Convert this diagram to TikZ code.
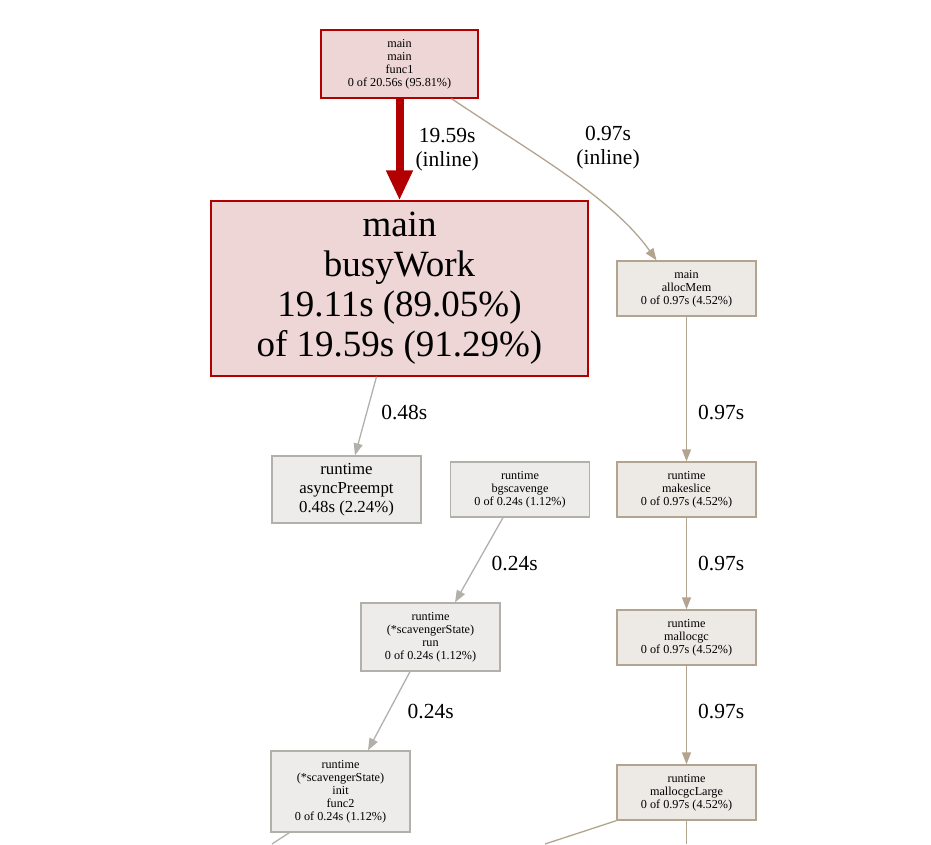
\documentclass[tikz,border=0pt]{standalone}
\usepackage{fontspec}
\setmainfont{Liberation Serif}
\usetikzlibrary{arrows.meta}

\definecolor{hotred}{HTML}{B20000}
\definecolor{hotfill}{HTML}{EDD6D5}
\definecolor{tanline}{HTML}{B2A48F}
\definecolor{tanfill}{HTML}{EDEAE6}
\definecolor{grayline}{HTML}{B2B0AB}
\definecolor{grayfill}{HTML}{EDECEB}

\tikzset{
  fnbox/.style={draw, line width=1.3pt, align=center, inner sep=0pt,
                font=\fontsize{12.2}{13}\selectfont},
  hotbox/.style={fnbox, draw=hotred, fill=hotfill},
  tanbox/.style={fnbox, draw=tanline, fill=tanfill, minimum width=139pt},
  graybox/.style={fnbox, draw=grayline, fill=grayfill, minimum width=139pt},
  elabel/.style={align=center, inner sep=0pt, font=\fontsize{21.5}{24}\selectfont},
  tanedge/.style={draw=tanline, line width=1.3pt, -{Triangle[length=12pt,width=9pt]}},
  grayedge/.style={draw=grayline, line width=1.3pt, -{Triangle[length=12pt,width=9pt]}},
}

\begin{document}
\begin{tikzpicture}[x=1pt, y=-1pt]
\useasboundingbox (0,0) rectangle (931,844);

% functions
\node[hotbox, minimum width=157pt, minimum height=68pt] (func1) at (399.5,64)
  {main\\main\\func1\\0 of 20.56s (95.81\%)};
\node[hotbox, minimum width=377pt, minimum height=175pt,
      font=\fontsize{37}{40}\selectfont] (busyWork) at (399.5,288.5)
  {main\\busyWork\\19.11s (89.05\%)\\of 19.59s (91.29\%)};
\node[tanbox, minimum height=55pt] (allocMem) at (686.5,288.5)
  {main\\allocMem\\0 of 0.97s (4.52\%)};
\node[graybox, minimum width=149pt, minimum height=67pt,
      font=\fontsize{16.8}{19}\selectfont] (asyncPreempt) at (346.5,489.5)
  {runtime\\asyncPreempt\\0.48s (2.24\%)};
\node[graybox, minimum height=55pt] (bgscavenge) at (520,489.5)
  {runtime\\bgscavenge\\0 of 0.24s (1.12\%)};
\node[tanbox, minimum height=55pt] (makeslice) at (686.5,489.5)
  {runtime\\makeslice\\0 of 0.97s (4.52\%)};
\node[graybox, minimum height=68pt] (scavRun) at (430.5,637)
  {runtime\\(*scavengerState)\\run\\0 of 0.24s (1.12\%)};
\node[tanbox, minimum height=55pt] (mallocgc) at (686.5,637.5)
  {runtime\\mallocgc\\0 of 0.97s (4.52\%)};
\node[graybox, minimum height=81pt] (scavInit) at (340.5,791.5)
  {runtime\\(*scavengerState)\\init\\func2\\0 of 0.24s (1.12\%)};
\node[tanbox, minimum height=55pt] (mallocgcLarge) at (686.5,792.5)
  {runtime\\mallocgcLarge\\0 of 0.97s (4.52\%)};

% free ends below the page
\coordinate (outA) at (272,844);
\coordinate (outB) at (545,844);
\coordinate (outC) at (686.5,844);

% calls
\draw[draw=hotred, line width=8pt, -{Triangle[length=30pt,width=25pt]}]
  (func1) -- (busyWork)
  node[elabel, midway, right=12pt] (lInline) {19.59s\\(inline)};
\draw[tanedge] ([xshift=52pt]func1.south)
  .. controls (540,158) and (612,198) .. ([xshift=-30pt]allocMem.north);
\node[elabel] (lAlloc) at (608,148) {0.97s\\(inline)};
\draw[grayedge] ([xshift=-23pt]busyWork.south) -- ([xshift=8.5pt]asyncPreempt.north)
  node[elabel, pos=0.46, right=14pt] (lPreempt) {0.48s};
\draw[tanedge] (allocMem) -- (makeslice)
  node[elabel, pos=0.66, right=11pt] (lMake) {0.97s};
\draw[grayedge] ([xshift=-17pt]bgscavenge.south) -- ([xshift=24.5pt]scavRun.north)
  node[elabel, pos=0.54, right=14pt] (lRun) {0.24s};
\draw[tanedge] (makeslice) -- (mallocgc)
  node[elabel, midway, right=11pt] (lMalloc) {0.97s};
\draw[grayedge] ([xshift=-20.5pt]scavRun.south) -- ([xshift=27.5pt]scavInit.north)
  node[elabel, midway, right=18pt] (lInit) {0.24s};
\draw[tanedge] (mallocgc) -- (mallocgcLarge)
  node[elabel, pos=0.46, right=11pt] (lLarge) {0.97s};
\draw[draw=grayline, line width=1.3pt] ([xshift=19pt]scavInit.south west) -- (outA);
\draw[draw=tanline, line width=1.3pt] (mallocgcLarge.south west) -- (outB);
\draw[draw=tanline, line width=1.3pt] (mallocgcLarge.south) -- (outC);
\end{tikzpicture}
\end{document}
